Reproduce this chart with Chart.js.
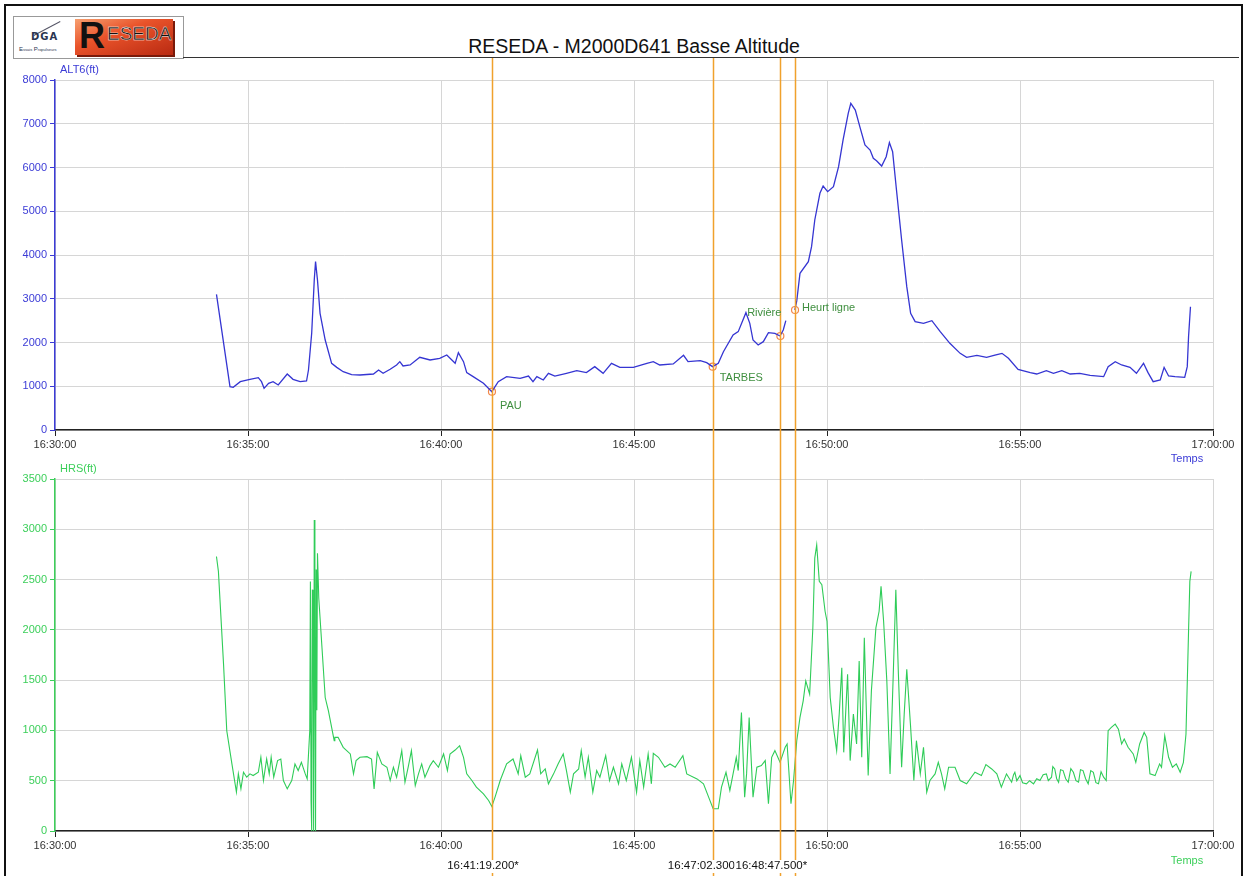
<!DOCTYPE html>
<html>
<head>
<meta charset="utf-8">
<title>RESEDA - M2000D641 Basse Altitude</title>
<script src="https://cdn.jsdelivr.net/npm/chart.js@4.4.1/dist/chart.umd.min.js"></script>
<style>
    body { margin: 0; background: #fff; font-family: "Liberation Sans", Arial, sans-serif; }
    #page { position: relative; width: 1245px; height: 876px; overflow: hidden; }
    .frame { position: absolute; left: 4px; top: 4px; width: 1235px; height: 900px; border: 2px solid #111; }
    .logo-box { position: absolute; left: 13px; top: 16px; width: 169px; height: 41px; border: 1px solid #999; background: #fff; }
    .head-line { position: absolute; left: 183px; top: 57px; width: 1056px; border-top: 1px solid #333; }
    .title { position: absolute; left: 0; top: 35px; width: 1268px; text-align: center; font-size: 19.5px; color: #111; }
    .dga { position: absolute; left: 31px; top: 31px; font: bold 10px "DejaVu Sans", sans-serif; color: #2a3550; letter-spacing: 1px; }
    .ep { position: absolute; left: 19px; top: 46px; font-size: 6px; color: #2a3550; }
    .swoosh { position: absolute; left: 32px; top: 28px; width: 30px; border-top: 1px solid #556; transform: rotate(-28deg); }
    .reseda { position: absolute; left: 75px; top: 19px; width: 98px; height: 36px; background: linear-gradient(160deg, #f7a070 0%, #e9532a 40%, #b92a12 100%); box-shadow: 2px 2px 0 #7a1a0a; }
    .reseda .r { position: absolute; left: 4px; top: -4px; font: bold 36px "Liberation Sans", Arial, sans-serif; color: #111; }
    .reseda .rest { position: absolute; left: 32px; top: 4px; font: 19px "Liberation Sans Narrow", "Liberation Sans", Arial, sans-serif; color: #111; -webkit-text-stroke: 0.4px #fff; }
    canvas { position: absolute; left: 0; }
    #altChart { top: 58px; }
    #hrsChart { top: 464px; }
</style>
</head>
<body>
<div id="page">
    <div class="frame"></div>
    <div class="logo-box"></div>
    <div class="swoosh"></div>
    <div class="dga">DGA</div>
    <div class="ep">E<span style="font-size:4px">ssais</span> P<span style="font-size:4px">ropulseurs</span></div>
    <div class="reseda"><span class="r">R</span><span class="rest">ESEDA</span></div>
    <div class="head-line"></div>
    <div class="title">RESEDA - M2000D641 Basse Altitude</div>
    <canvas id="altChart" width="1245" height="406"></canvas>
    <canvas id="hrsChart" width="1245" height="412"></canvas>
</div>
<script>
// seconds after 16:30:00
const altTime = [251,272,277,288,303,316,321,325,332,339,347,361,370,381,391,394,399,403,405,408,412,420,430,438,448,461,474,495,503,510,
    521,531,536,541,552,567,583,598,609,622,627,635,640,650,666,679,689,702,723,736,743,749,759,767,777,795,811,826,839,852,
    865,878,899,920,930,940,961,977,984,1003,1013,1022,1031,1039,1054,1062,1074,1080,1085,1093,1101,1109,1119,1127,1132,1136,1142,1150,1153,1158,
    1171,1176,1181,1189,1194,1201,1210,1218,1225,1233,1237,1244,1251,1259,1267,1272,1277,1285,1292,1297,1302,1308,1316,1324,1330,1337,
    1350,1363,1376,1391,1407,1417,1433,1448,1461,1472,1482,1497,1516,1526,1541,1552,1565,1578,1593,1609,1630,1637,1648,1658,1671,1681,
    1692,1699,1707,1718,1724,1731,1741,1756,1760,1762,1765];
const altValues = [3100,990,975,1105,1158,1196,1105,952,1067,1105,1029,1280,1158,1105,1120,1371,2210,3429,3848,3429,2667,2057,1524,1432,1333,1265,1257,1280,1371,1296,
    1387,1486,1562,1463,1486,1661,1600,1638,1714,1524,1768,1562,1311,1219,1067,876,1105,1219,1180,1234,1105,1219,1143,1296,1234,1296,1356,1311,1448,1296,
    1524,1432,1432,1524,1562,1486,1509,1707,1562,1585,1539,1448,1524,1790,2171,2248,2682,2438,2057,1943,2019,2225,2210,2149,2286,2499,null,2743,2950,3581,
    3848,4190,4800,5410,5577,5448,5562,6019,6629,7238,7467,7314,6933,6514,6400,6210,6156,6034,6247,6568,6362,5486,4343,3276,2667,2476,
    2438,2499,2248,1981,1752,1661,1707,1661,1714,1752,1638,1387,1311,1280,1356,1296,1356,1280,1296,1250,1219,1448,1562,1486,1432,1296,
    1524,1311,1105,1143,1432,1234,1219,1204,1448,2133,2819];

const hrsTime = [
    251,254,262,267,275,282,285,289,293,298,
    303,308,316,320,324,329,333,336,340,346,
    351,355,361,368,373,378,383,389,392,396,
    397,398,399,400,401,402,403,404,405,406,
    407,408,410,
    415,420,425,430,434,435,440,448,459,464,
    468,474,485,492,496,501,508,516,521,526,
    531,539,544,549,554,560,565,570,575,583,
    588,596,604,610,614,622,629,635,640,648,
    655,666,674,679,684,692,702,712,720,724,
    731,738,750,755,762,767,775,782,790,795,
    801,806,814,818,824,829,836,842,847,856,
    862,868,876,881,888,896,904,909,915,922,
    927,930,938,948,956,964,976,982,998,1008,
    1016,1023,
    1031,1036,1043,1049,1054,1059,1062,1067,1072,1075,
    1079,1085,1091,1098,1104,1109,1114,1119,1127,1135,
    1138,1144,1148,1153,1158,1163,1167,1173,1178,1181,
    1184,1188,1192,1197,1200,1205,1210,1215,1219,1223,
    1226,1232,1236,1241,1246,1250,1254,1258,1264,1269,
    1276,1281,1284,1288,1293,1298,1303,1307,1311,1316,
    1320,1324,1330,1335,1339,1345,1350,1355,1360,1368,
    1373,1378,1383,1389,1399,1407,1417,1430,1440,1447,
    1456,1464,1471,1479,1487,
    1490,1492,1495,1500,1504,1510,1515,1521,1526,1531,
    1536,1541,1544,1549,1551,1554,1557,1560,1563,1567,
    1571,1575,1579,1583,1587,1591,1594,1598,1602,1606,
    1610,1614,1618,1622,1626,1630,1634,
    1637,1642,1648,1653,1658,1662,1668,1676,1680,1686,
    1693,1697,1702,1710,1717,1720,1725,1731,1737,1743,
    1749,1754,1758,1762,1764,1766];
const hrsValues = [
    2729,2581,1657,997,667,386,568,419,584,535,
    568,551,584,733,502,716,568,733,535,700,
    716,502,419,502,667,601,683,568,518,997,
    2482,300,0,2400,2300,0,3092,1500,0,2600,
    1200,2762,2317,
    1822,1327,1195,1030,898,931,931,832,766,568,
    700,733,739,716,419,782,667,634,502,634,
    535,799,485,634,799,452,568,667,535,650,
    700,634,766,601,766,805,848,733,568,502,
    436,370,304,244,337,502,667,716,568,749,
    535,568,805,568,617,469,568,667,766,601,
    386,568,617,799,535,733,386,601,535,749,
    502,634,469,667,502,733,386,700,436,766,
    469,772,733,634,667,634,749,568,518,469,
    337,221,
    221,436,584,403,568,733,601,1178,337,568,
    1129,337,634,650,700,271,733,799,683,832,
    865,271,502,898,1129,1294,1492,1360,2020,2713,
    2845,2482,2449,2185,2086,1327,1030,799,1162,1624,
    782,1558,700,1162,865,1690,733,1921,551,1393,
    2020,2185,2432,2086,1492,568,1558,2399,1558,634,
    1162,1607,1030,502,898,568,832,386,502,568,
    683,568,419,634,634,502,469,584,551,660,
    617,568,436,568,485,
    560,584,500,551,480,469,500,469,520,502,
    560,568,500,535,640,617,520,485,610,601,
    520,485,620,584,500,485,610,601,520,469,
    600,584,480,469,590,535,502,
    997,1030,1063,1013,865,914,832,766,683,865,
    980,931,568,551,667,634,947,733,634,667,
    584,683,964,1987,2482,2581];

// cursors and events
const cursorTimes = [679.2, 1022.3, 1127.5, 1150.3];
const cursorStamps = ['16:41:19.200*', '16:47:02.300*', '16:48:47.500*', ''];
const eventNames = ['PAU', 'TARBES', 'Rivière', 'Heurt ligne'];
const eventAlt = [876, 1448, 2149, 2743];

const altTicks = [0, 1000, 2000, 3000, 4000, 5000, 6000, 7000, 8000];
const hrsTicks = [0, 500, 1000, 1500, 2000, 2500, 3000, 3500];

const FONT = '"Liberation Sans", Arial, sans-serif';
const ORANGE = '#f0a12c';

function fmtClock(sec) {
    const m = 30 + Math.floor(sec / 60);
    const s = Math.round(sec % 60);
    const hh = 16 + Math.floor(m / 60);
    return hh + ':' + String(m % 60).padStart(2, '0') + ':' + String(s).padStart(2, '0');
}

function points(times, values) {
    return times.map((t, i) => ({ x: t, y: values[i] }));
}

function baseOptions(yTicks, axisColor, xHeight, padTop) {
    return {
        responsive: false,
        animation: false,
        events: [],
        layout: { padding: { top: padTop, right: 32, left: 0, bottom: 0 } },
        plugins: { legend: { display: false }, tooltip: { enabled: false } },
        scales: {
            x: {
                type: 'linear', min: 0, max: 1800,
                afterFit: (s) => { s.height = xHeight; },
                afterBuildTicks: (s) => { s.ticks = [0, 300, 600, 900, 1200, 1500, 1800].map(v => ({ value: v })); },
                ticks: { callback: (v) => fmtClock(v), color: '#333', font: { family: FONT, size: 11 }, padding: 2, maxRotation: 0, autoSkip: false },
                grid: { color: '#d6d6d6', tickColor: '#222', tickLength: 6 },
                border: { color: '#222', width: 1.5 }
            },
            y: {
                min: 0, max: yTicks[yTicks.length - 1],
                afterFit: (s) => { s.width = 55; },
                afterBuildTicks: (s) => { s.ticks = yTicks.map(v => ({ value: v })); },
                ticks: { callback: (v) => String(v), color: axisColor, font: { family: FONT, size: 11 }, padding: 3 },
                grid: { color: '#d6d6d6', tickColor: axisColor, tickLength: 5 },
                border: { color: axisColor, width: 1.5 }
            }
        }
    };
}

// orange cursor lines through the whole canvas height
const cursorPlugin = {
    id: 'cursors',
    afterDatasetsDraw(chart) {
        const ctx = chart.ctx;
        const xs = chart.scales.x;
        ctx.save();
        ctx.strokeStyle = ORANGE;
        ctx.lineWidth = 1.5;
        cursorTimes.forEach((t) => {
            const x = Math.round(xs.getPixelForValue(t)) + 0.5;
            ctx.beginPath();
            ctx.moveTo(x, 0);
            ctx.lineTo(x, chart.height);
            ctx.stroke();
        });
        ctx.restore();
    }
};

function textPlugin(id, draw) {
    return { id: id, afterDraw: draw };
}

function drawAltTexts(chart) {
    const ctx = chart.ctx;
    const xs = chart.scales.x;
    const area = chart.chartArea;
    ctx.save();
    ctx.font = '11px ' + FONT;
    ctx.textBaseline = 'middle';
    ctx.fillStyle = '#3b3bd6';
    ctx.textAlign = 'left';
    ctx.fillText('ALT6(ft)', 60, 12);
    ctx.textAlign = 'center';
    ctx.fillText('Temps', area.right - 26, area.bottom + 29);

    // event labels next to the markers
    const offs = [[8, 14, 'left'], [7, 11, 'left'], [1, -23, 'right'], [7, -2, 'left']];
    ctx.fillStyle = '#3f8f3f';
    eventNames.forEach((name, i) => {
        const x = xs.getPixelForValue(cursorTimes[i]);
        const y = chart.scales.y.getPixelForValue(eventAlt[i]);
        ctx.textAlign = offs[i][2];
        ctx.fillText(name, x + offs[i][0], y + offs[i][1]);
    });
    ctx.restore();
}

function drawHrsTexts(chart) {
    const ctx = chart.ctx;
    const xs = chart.scales.x;
    const area = chart.chartArea;
    ctx.save();
    ctx.font = '11px ' + FONT;
    ctx.textBaseline = 'middle';
    ctx.fillStyle = '#3ccf5a';
    ctx.textAlign = 'left';
    ctx.fillText('HRS(ft)', 60, 5);
    ctx.textAlign = 'center';
    ctx.fillText('Temps', area.right - 26, area.bottom + 30);

    // cursor time stamps under the axis
    ctx.font = '11.5px ' + FONT;
    cursorStamps.forEach((label, i) => {
        if (!label) return;
        const x = xs.getPixelForValue(cursorTimes[i]) - 9;
        const w = ctx.measureText(label).width;
        ctx.fillStyle = '#fff';
        ctx.fillRect(x - w / 2 - 1, area.bottom + 29, w + 2, 13);
        ctx.fillStyle = '#111';
        ctx.fillText(label, x, area.bottom + 35);
    });
    ctx.restore();
}

function renderAlt() {
    new Chart(document.getElementById('altChart'), {
        type: 'line',
        data: {
            datasets: [
                {
                    data: points(altTime, altValues),
                    borderColor: '#3535d2', borderWidth: 1.3, pointRadius: 0, tension: 0, spanGaps: false
                },
                {
                    data: points(cursorTimes, eventAlt),
                    showLine: false, pointRadius: 3.5, pointBorderWidth: 1.2,
                    pointBorderColor: '#f2874a', pointBackgroundColor: 'rgba(0,0,0,0)'
                }
            ]
        },
        options: baseOptions(altTicks, '#3b3bd6', 34, 22),
        plugins: [cursorPlugin, textPlugin('altTexts', drawAltTexts)]
    });
}

function renderHrs() {
    new Chart(document.getElementById('hrsChart'), {
        type: 'line',
        data: {
            datasets: [{
                data: points(hrsTime, hrsValues),
                borderColor: '#2fcc58', borderWidth: 1.1, pointRadius: 0, tension: 0
            }]
        },
        options: baseOptions(hrsTicks, '#3ccf5a', 45, 15),
        plugins: [cursorPlugin, textPlugin('hrsTexts', drawHrsTexts)]
    });
}

renderAlt();
renderHrs();
</script>
</body>
</html>
